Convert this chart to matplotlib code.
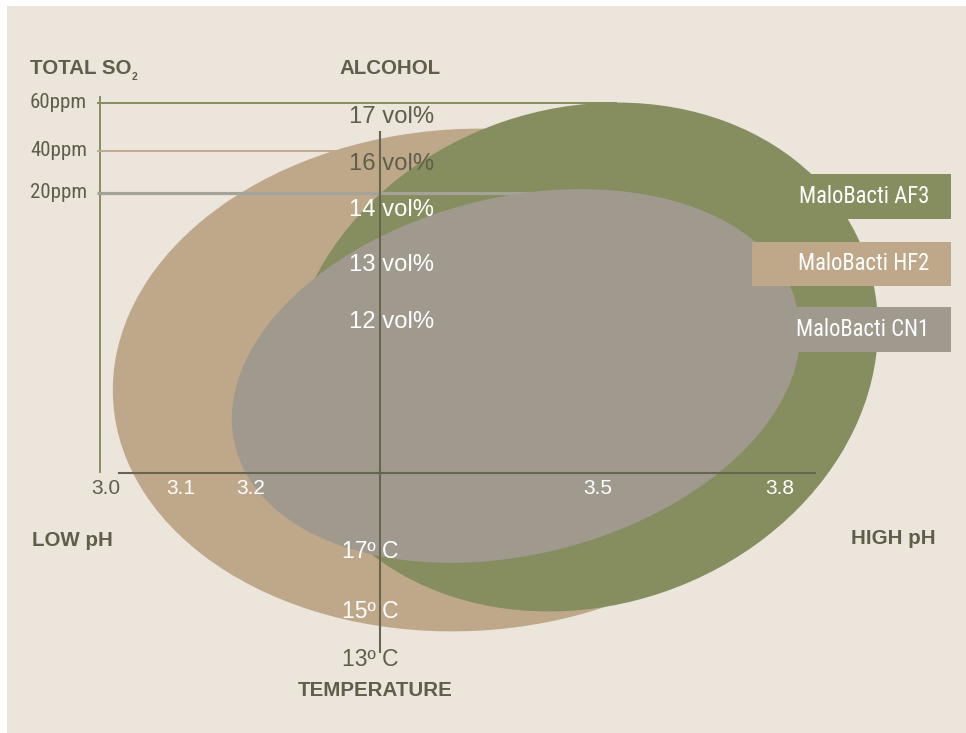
import matplotlib
matplotlib.use('Agg')
import matplotlib.pyplot as plt
from matplotlib.patches import Ellipse, Rectangle

# chart content
strains = ['MaloBacti HF2', 'MaloBacti AF3', 'MaloBacti CN1']
legend_order = ['MaloBacti AF3', 'MaloBacti HF2', 'MaloBacti CN1']
so2_labels = ['60ppm', '40ppm', '20ppm']
alcohol_labels = ['17 vol%', '16 vol%', '14 vol%', '13 vol%', '12 vol%']
temp_labels = ['17º C', '15º C', '13º C']
ph_labels = ['3.0', '3.1', '3.2', '3.5', '3.8']

# layout on a pixel canvas (schematic diagram, axes are not to scale)
bg = '#ebe5dc'
dark = '#5f5e4a'
axis_col = '#66654f'
strain_colors = {'MaloBacti HF2': '#bfa88a', 'MaloBacti AF3': '#868e5f', 'MaloBacti CN1': '#a09a8e'}
ell_center = {'MaloBacti HF2': (466, 380), 'MaloBacti AF3': (583, 357), 'MaloBacti CN1': (516, 376)}
ell_size = {'MaloBacti HF2': (707, 502), 'MaloBacti AF3': (600, 497), 'MaloBacti CN1': (579, 357)}
ell_angle = {'MaloBacti HF2': -3.3, 'MaloBacti AF3': -19, 'MaloBacti CN1': -14}
so2_y = [103, 151, 193]
so2_end = [617, 345, 583]
so2_col = ['#868e5f', '#bfa88a', '#a5a298']
so2_lw = [1.4, 1.4, 2.3]
alc_y = [117, 164, 210, 265, 322]
alc_col = [dark, dark, 'white', 'white', 'white']
temp_y = [552, 612, 660]
temp_col = ['white', 'white', dark]
ph_x = [106, 181, 251, 598, 780]
ph_col = [dark, 'white', 'white', 'white', 'white']
box_y = [(174, 219), (242, 286), (307, 352)]
box_left = [752, 752, 790]

plt.rcParams['font.family'] = ['Liberation Sans', 'DejaVu Sans']
narrow = ['Roboto Condensed', 'Roboto', 'Liberation Sans']

fig = plt.figure(figsize=(9.66, 7.33), dpi=100, facecolor='white')
ax = fig.add_axes([0, 0, 1, 1])
ax.set_xlim(0, 966)
ax.set_ylim(733, 0)
ax.axis('off')

ax.add_patch(Rectangle((7, 6), 966, 733, facecolor=bg, edgecolor='none', zorder=0))

# ellipses: tan, green, gray
for i, s in enumerate(strains):
    ax.add_patch(Ellipse(ell_center[s], ell_size[s][0], ell_size[s][1], angle=ell_angle[s],
                         facecolor=strain_colors[s], edgecolor='none', zorder=2 + i * 2))

# SO2 axis and guide lines
ax.plot([100, 100], [97, 472], color='#868e5f', lw=1.4, zorder=1)
for lab, y, xe, c, lw in zip(so2_labels, so2_y, so2_end, so2_col, so2_lw):
    z = 5 if lab == '20ppm' else 1
    ax.plot([97, xe], [y, y], color=c, lw=lw, zorder=z, solid_capstyle='butt')
    ax.text(30, y, lab, ha='left', va='center', fontsize=15, color=dark,
            family=narrow, fontstretch='condensed')

# pH axis
ax.plot([119, 815], [473, 473], color=axis_col, lw=1.5, zorder=8)
for lab, x, c in zip(ph_labels, ph_x, ph_col):
    ax.text(x, 489, lab, ha='center', va='center', fontsize=15, color=c, zorder=9)

# alcohol / temperature axis
ax.plot([380, 380], [132, 652], color=axis_col, lw=1.5, zorder=8)
for lab, y, c in zip(alcohol_labels, alc_y, alc_col):
    ax.text(349, y, lab, ha='left', va='center', fontsize=17.2, color=c, zorder=9)
for lab, y, c in zip(temp_labels, temp_y, temp_col):
    ax.text(342, y, lab, ha='left', va='center', fontsize=16.5, color=c, zorder=9)

# headings
t = ax.text(30, 68, 'TOTAL SO', ha='left', va='center', fontsize=14.8, fontweight='bold', color=dark)
ax.annotate('2', xy=(1, 0), xycoords=t, xytext=(0.5, 0), textcoords='offset points',
            ha='left', va='center', fontsize=7.5, fontweight='bold', color=dark)
ax.text(390, 68, 'ALCOHOL', ha='center', va='center', fontsize=14.8, fontweight='bold', color=dark)
ax.text(32, 540, 'LOW pH', ha='left', va='center', fontsize=14.8, fontweight='bold', color=dark)
ax.text(936, 538, 'HIGH pH', ha='right', va='center', fontsize=14.8, fontweight='bold', color=dark)
ax.text(375, 690, 'TEMPERATURE', ha='center', va='center', fontsize=14.8, fontweight='bold', color=dark)

# legend boxes
for s, (y0, y1), x0 in zip(legend_order, box_y, box_left):
    ax.add_patch(Rectangle((x0, y0), 951 - x0, y1 - y0, facecolor=strain_colors[s],
                           edgecolor='none', zorder=10))
    ax.text(929, (y0 + y1) / 2, s, ha='right', va='center', fontsize=16.3, color='white',
            family=narrow, fontstretch='condensed', zorder=11)

fig.savefig('out.png', dpi=100, facecolor='white')
